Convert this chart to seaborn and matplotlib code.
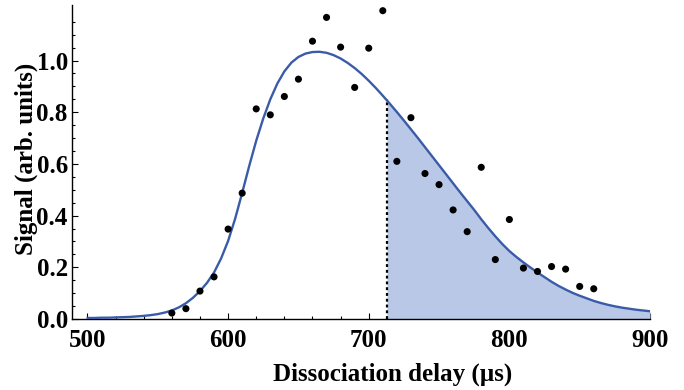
import numpy as np
import pandas as pd
import seaborn as sns
import matplotlib.pyplot as plt
from matplotlib.ticker import FixedLocator

delay_us = [560, 570, 580, 590, 600, 610, 620, 630, 640, 650,
            660, 670, 680, 690, 700, 710, 720, 730, 740, 750,
            760, 770, 780, 790, 800, 810, 820, 830, 840, 850, 860]
signal = [0.023, 0.040, 0.108, 0.163, 0.348, 0.487, 0.813, 0.790, 0.861, 0.928,
          1.075, 1.167, 1.052, 0.896, 1.048, 1.193, 0.610, 0.779, 0.563, 0.520,
          0.422, 0.338, 0.587, 0.230, 0.385, 0.197, 0.184, 0.203, 0.193, 0.126, 0.117]

fit_delay = list(range(500, 905, 5))
fit_signal = [0.004, 0.004, 0.005, 0.005, 0.006, 0.007, 0.008, 0.010, 0.012, 0.015,
              0.019, 0.025, 0.033, 0.045, 0.061, 0.082, 0.108, 0.140, 0.180, 0.234,
              0.302, 0.388, 0.488, 0.592, 0.690, 0.776, 0.850, 0.911, 0.958, 0.992,
              1.014, 1.027, 1.033, 1.034, 1.030, 1.021, 1.008, 0.991, 0.971, 0.948,
              0.922, 0.894, 0.864, 0.833, 0.801, 0.768, 0.734, 0.700, 0.665, 0.630,
              0.595, 0.560, 0.525, 0.490, 0.456, 0.422, 0.386, 0.352, 0.320, 0.290,
              0.263, 0.240, 0.219, 0.199, 0.180, 0.162, 0.144, 0.128, 0.114, 0.101,
              0.090, 0.080, 0.070, 0.062, 0.055, 0.049, 0.044, 0.040, 0.036, 0.033,
              0.030]

# cut position of the shaded tail
cut_delay = 713
cut_signal = 0.852


def main():
    pts = pd.DataFrame({"delay": delay_us, "signal": signal})
    fit = pd.DataFrame({"delay": fit_delay, "signal": fit_signal})

    sns.set_theme(style="ticks")
    plt.rcParams["font.family"] = ["Liberation Serif", "DejaVu Serif"]
    plt.rcParams["font.weight"] = "bold"

    fig = plt.figure(figsize=(6.84, 3.90), dpi=100)
    ax = fig.add_axes([72 / 684, 71 / 390, 578 / 684, 314 / 390])

    blue = "#3a5ca8"

    # shaded tail after the cut
    tail = fit[fit["delay"] > cut_delay]
    fx = [cut_delay] + tail["delay"].tolist()
    fy = [cut_signal] + tail["signal"].tolist()
    ax.fill_between(fx, 0, fy, color="#b9c8e6", lw=0, zorder=1)
    ax.vlines(cut_delay, 0, cut_signal, colors="black",
              linestyles=(0, (1.3, 1.3)), lw=1.6, zorder=2)

    sns.lineplot(data=fit, x="delay", y="signal", color=blue, lw=1.7,
                 ax=ax, zorder=3)
    sns.scatterplot(data=pts, x="delay", y="signal", color="black", s=26,
                    edgecolor="none", ax=ax, zorder=4)

    ax.set_xlim(489, 900)
    ax.set_ylim(0, 1.215)
    sns.despine(ax=ax)
    for sp in ("left", "bottom"):
        ax.spines[sp].set_linewidth(1.0)
        ax.spines[sp].set_color("black")

    ax.xaxis.set_major_locator(FixedLocator([500, 600, 700, 800, 900]))
    ax.xaxis.set_minor_locator(FixedLocator(
        [v for v in range(500, 901, 20) if v % 100]))
    ax.yaxis.set_major_locator(FixedLocator([0.0, 0.2, 0.4, 0.6, 0.8, 1.0]))
    ax.yaxis.set_minor_locator(FixedLocator(
        [v / 100 for v in range(5, 121, 5) if v % 20]))
    ax.set_yticklabels(["0.0", "0.2", "0.4", "0.6", "0.8", "1.0"])

    ax.tick_params(which="both", direction="in", color="black", width=0.8,
                   labelsize=18, labelcolor="black")
    ax.tick_params(which="major", length=4.5)
    ax.tick_params(which="minor", length=2.5)
    ax.tick_params(axis="x", pad=7)
    ax.tick_params(axis="y", pad=3)
    for lab in ax.get_xticklabels() + ax.get_yticklabels():
        lab.set_fontweight("bold")

    ax.set_xlabel("Dissociation delay (µs)", fontsize=18, fontweight="bold",
                  color="black")
    ax.set_ylabel("Signal (arb. units)", fontsize=18, fontweight="bold",
                  color="black")
    ax.xaxis.set_label_coords(0.555, -0.14)
    ax.yaxis.set_label_coords(-0.058, 0.51)

    fig.savefig("out.png", dpi=100)
    plt.close(fig)


if __name__ == "__main__":
    main()
